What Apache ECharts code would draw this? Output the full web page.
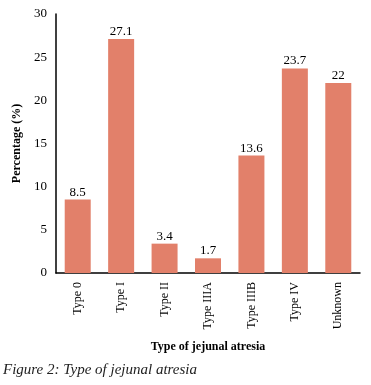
<!DOCTYPE html>
<html>
<head>
<meta charset="utf-8">
<script src="https://cdn.jsdelivr.net/npm/echarts@6/dist/echarts.min.js"></script>
<style>
  html, body { margin: 0; padding: 0; background: #fff; }
  #chart { width: 371px; height: 385px; }
</style>
</head>
<body>
<div id="chart"></div>
<script>
const categories = ["Type 0", "Type I", "Type II", "Type IIIA", "Type IIIB", "Type IV", "Unknown"];
const percentages = [8.5, 27.1, 3.4, 1.7, 13.6, 23.7, 22];
const yTicks = [0, 5, 10, 15, 20, 25, 30];

const serif = "'Liberation Serif', 'DejaVu Serif', serif";
const chart = echarts.init(document.getElementById("chart"));
const option = {
  animation: false,
  textStyle: { fontFamily: serif },
  grid: { left: 56, right: 11, top: 14, bottom: 112 },
  title: {
    text: "Figure 2: Type of jejunal atresia",
    left: 3,
    top: 363,
    padding: 0,
    textStyle: { fontFamily: serif, fontStyle: "italic", fontWeight: "normal", fontSize: 15, color: "#222" }
  },
  xAxis: {
    type: "category",
    data: categories,
    name: "Type of jejunal atresia",
    nameLocation: "middle",
    nameGap: 68,
    nameTextStyle: { fontFamily: serif, fontWeight: "bold", fontSize: 12, color: "#000" },
    axisLine: { lineStyle: { color: "#000", width: 1.5 } },
    axisTick: { show: false },
    axisLabel: { rotate: 90, fontFamily: serif, fontSize: 12, color: "#000", margin: 9 }
  },
  yAxis: {
    type: "value",
    min: yTicks[0],
    max: yTicks[yTicks.length - 1],
    interval: 5,
    name: "Percentage (%)",
    nameLocation: "middle",
    nameGap: 32,
    nameTextStyle: { fontFamily: serif, fontWeight: "bold", fontSize: 12, color: "#000" },
    axisLine: { show: true, lineStyle: { color: "#000", width: 1.5 } },
    axisTick: { show: false },
    splitLine: { show: false },
    axisLabel: { fontFamily: serif, fontSize: 13, color: "#000", margin: 9 }
  },
  series: [{
    type: "bar",
    data: percentages,
    barWidth: 26,
    itemStyle: { color: "#E2806A" },
    label: { show: true, position: "top", distance: 1, fontFamily: serif, fontSize: 13, color: "#000" }
  }]
};
chart.setOption(option);
</script>
</body>
</html>
